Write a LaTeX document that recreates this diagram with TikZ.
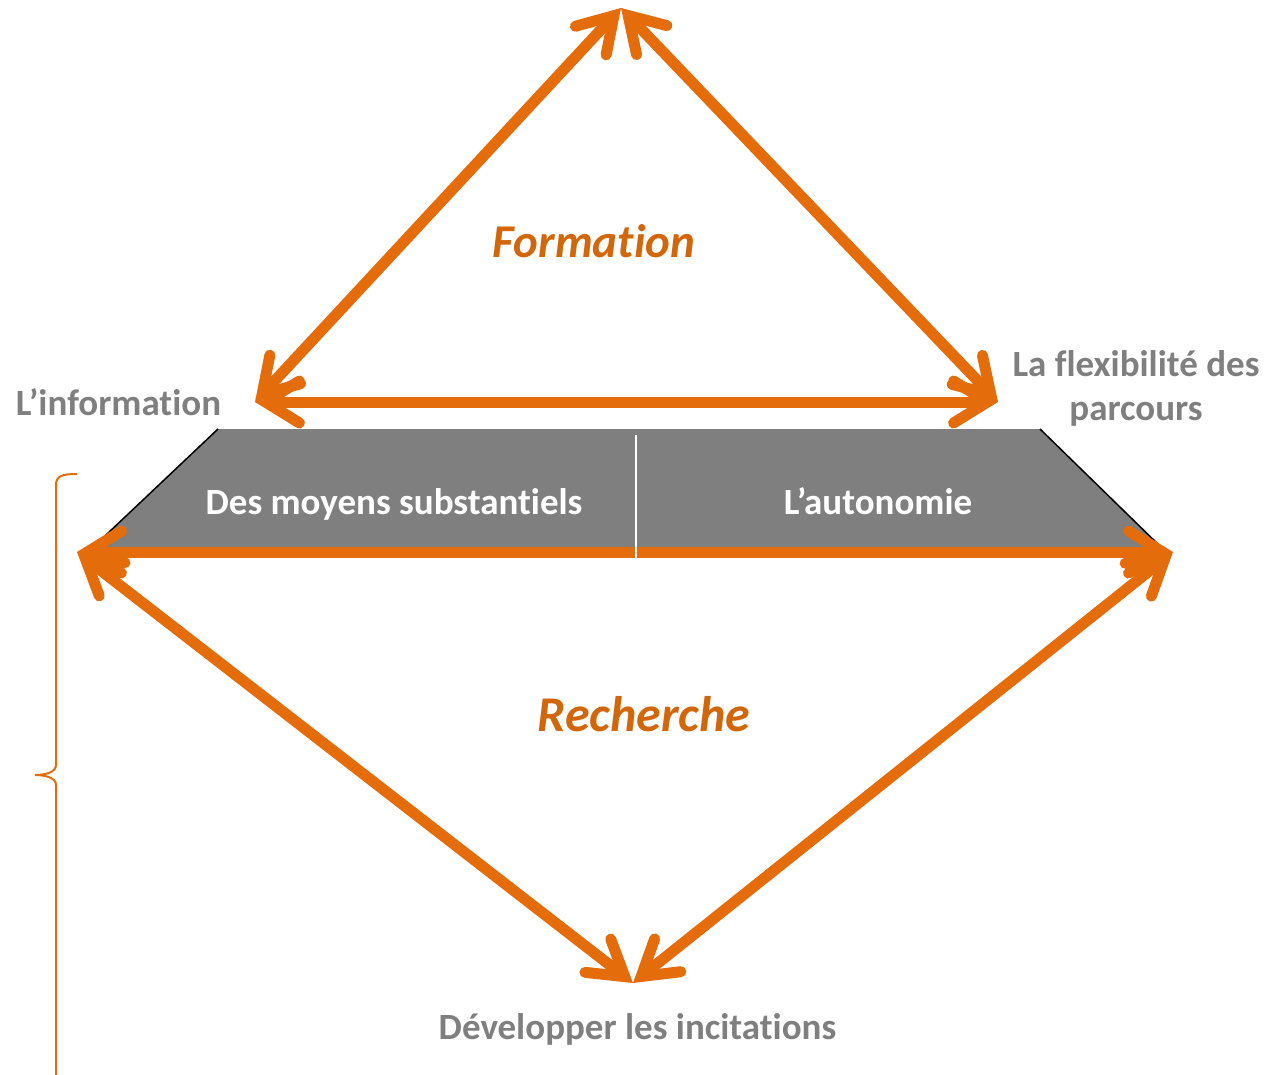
\documentclass[tikz,border=0pt]{standalone}
\usepackage{fontspec}
\setmainfont{Carlito}[Ligatures=NoCommon]
\usetikzlibrary{arrows.meta}
\definecolor{orng}{HTML}{E46C0A}
\definecolor{orngtxt}{HTML}{D2660A}
\definecolor{txtgray}{HTML}{7F7F7F}
\definecolor{boxgray}{HTML}{7F7F7F}
\tikzset{obarb/.tip={Straight Barb[length=34pt,width=42pt,line cap=round,line join=miter]}}
\begin{document}
\begin{tikzpicture}[x=1pt,y=-1pt,
  arr/.style={draw=orng, line width=11pt, obarb-obarb},
  lbl/.style={font=\fontsize{37}{44}\selectfont\bfseries, text=txtgray, inner sep=0pt, align=center, anchor=base},
  inlbl/.style={font=\fontsize{37}{45}\selectfont\bfseries, text=white, inner sep=0pt, anchor=base},
  big/.style={font=\fontsize{47}{56}\selectfont\bfseries\itshape, text=orngtxt, inner sep=0pt, anchor=base},
  brace/.style={draw=orng, line width=2pt},
  band/.style={fill=boxgray},
  edge/.style={draw=black, line width=1.5pt},
  divider/.style={draw=white, line width=2.5pt}]
\useasboundingbox (0,0) rectangle (1266,1075);

% corner points
\coordinate (apex) at (621,8);
\coordinate (ul) at (255,402);
\coordinate (ur) at (998,402);
\coordinate (ll) at (77,552);
\coordinate (lr) at (1173,552);
\coordinate (bot) at (633,983);
\coordinate (tl) at (218,429);
\coordinate (tr) at (1040,429);
\coordinate (bl) at (88,552);
\coordinate (br) at (1166,552);
\coordinate (dtop) at (636,435);
\coordinate (dbot) at (636,558);

% grey band
\fill[band] (tl) -- (tr) -- (br) -- (bl) -- cycle;
\draw[edge] (tl) -- (bl);
\draw[edge] (tr) -- (br);

% arrows
\draw[arr] (apex) -- (ul);
\draw[arr] (apex) -- (ur);
\draw[arr] (ul) -- (ur);
\draw[arr] (ll) -- (lr);
\draw[arr] (ll) -- (bot);
\draw[arr] (lr) -- (bot);

% divider
\draw[divider] (dtop) -- (dbot);

% brace
\draw[brace] (77,474) .. controls (62,474) and (56,476) .. (56,485) -- (56,765)
  .. controls (56,772) and (46,775) .. (35,775)
  .. controls (46,775) and (56,778) .. (56,785) -- (56,1080);

% texts
\node[big] (formation) at (594,258) {Formation};
\node[big, font=\fontsize{50}{58}\selectfont\bfseries\itshape] (recherche) at (644,731) {Recherche};
\node[lbl] (info) at (118.5,415) {L’information};
\node[lbl] (flex) at (1136,420) {La flexibilité des\\parcours};
\node[inlbl] (moyens) at (394,514) {Des moyens substantiels};
\node[inlbl] (auto) at (878,514) {L’autonomie};
\node[lbl] (incit) at (637.5,1039) {Développer les incitations};
\end{tikzpicture}
\end{document}
